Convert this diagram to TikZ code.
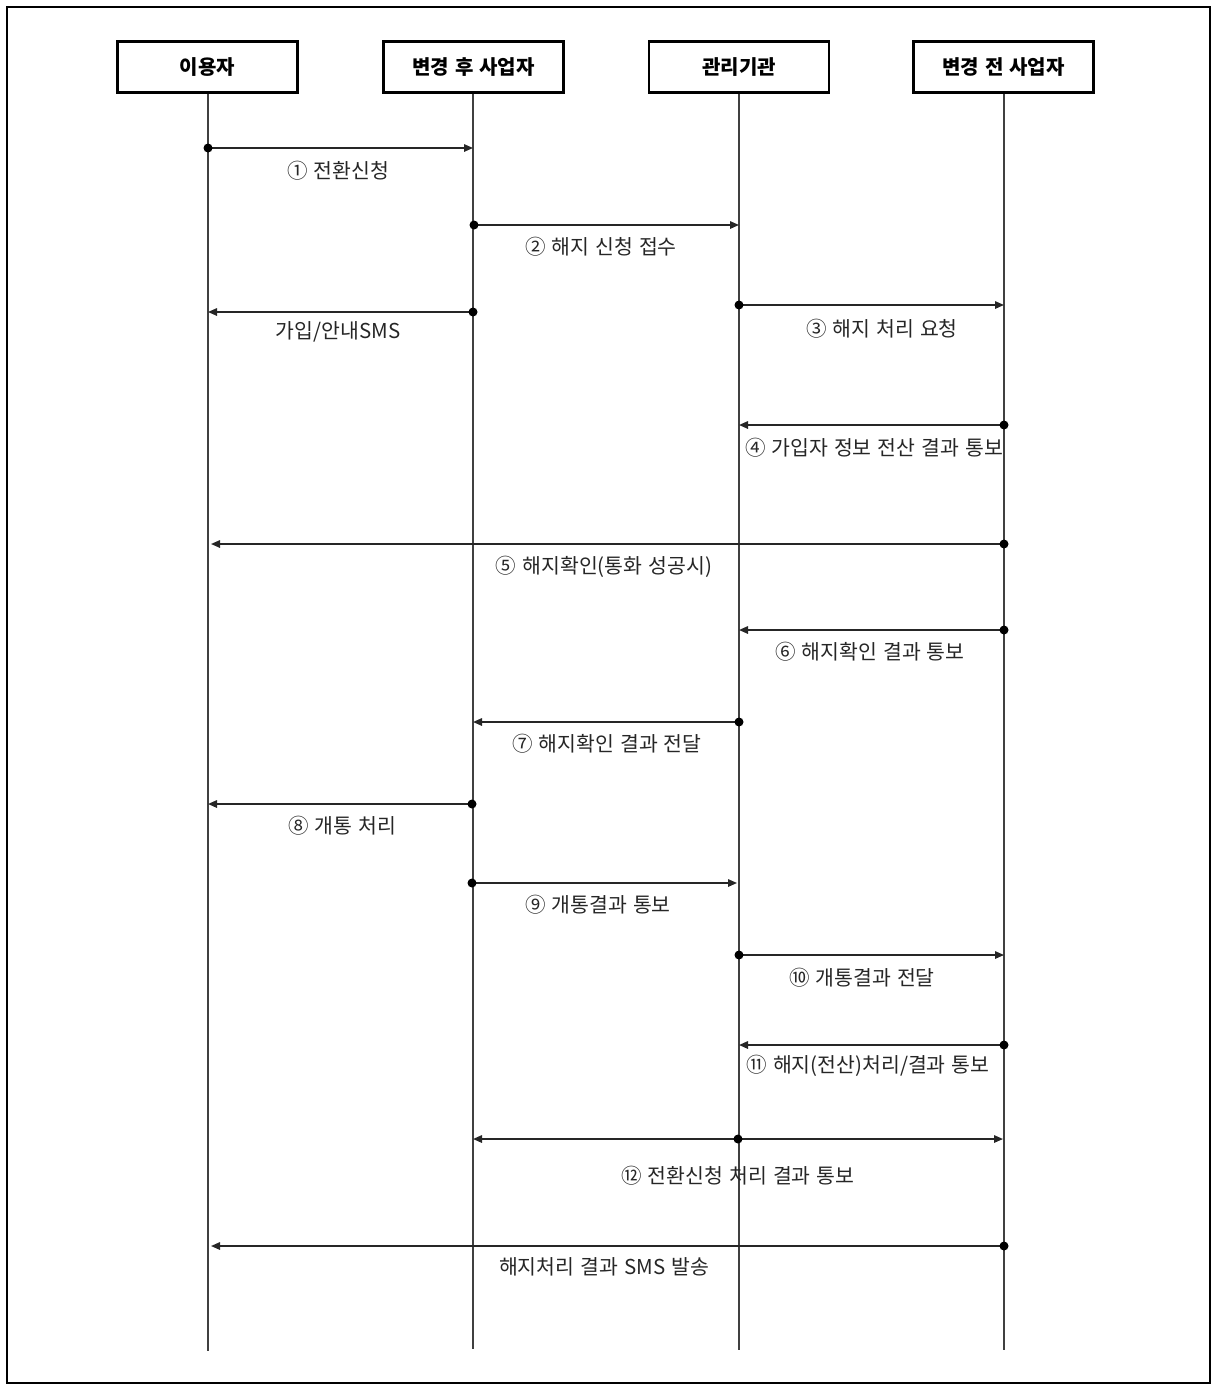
\documentclass[tikz,border=0pt]{standalone}
\usepackage{fontspec}
\usetikzlibrary{arrows.meta}
\newfontfamily\kr[WordSpace=1.3]{Noto Sans CJK KR}
\begin{document}
\begin{tikzpicture}[x=1pt,y=-1pt,
  hdr/.style={draw=black,line width=2.2pt,minimum width=180pt,minimum height=51pt,inner sep=0pt,font=\kr\bfseries\fontsize{20}{22}\selectfont},
  life/.style={draw=black!75,line width=1.2pt},
  msg/.style={draw=black!85,line width=1.5pt,-{Triangle[length=9pt,width=7.5pt]}},
  msgb/.style={draw=black!85,line width=1.5pt,{Triangle[length=9pt,width=7.5pt]}-{Triangle[length=9pt,width=7.5pt]}},
  lbl/.style={font=\kr\fontsize{20.5}{23}\selectfont,inner sep=0pt,text=black!85},
  dot/.style={fill=black}]
\useasboundingbox (0,0) rectangle (1215,1387);
\draw[line width=2.8pt] (7,7) rectangle (1210,1383);
% headers
\node[hdr] (u) at (207.5,67) {이용자};
\node[hdr] (n) at (473.5,67) {변경 후 사업자};
\node[hdr] (m) at (739,67) {관리기관};
\node[hdr] (o) at (1003.5,67) {변경 전 사업자};
% lifeline ends
\coordinate (ue) at (208,1351);
\coordinate (ne) at (473,1349);
\coordinate (me) at (739,1350);
\coordinate (oe) at (1004,1350);
\draw[life] (u.south -| ue) -- (ue);
\draw[life] (n.south -| ne) -- (ne);
\draw[life] (m.south -| me) -- (me);
\draw[life] (o.south -| oe) -- (oe);
% message points
\coordinate (a1) at (208,148);  \coordinate (b1) at (473,148);
\coordinate (a2) at (474,225);  \coordinate (b2) at (739,225);
\coordinate (a3) at (473,312);  \coordinate (b3) at (208,312);
\coordinate (a4) at (739,305);  \coordinate (b4) at (1004,305);
\coordinate (a5) at (1004,425); \coordinate (b5) at (739,425);
\coordinate (a6) at (1004,544); \coordinate (b6) at (211,544);
\coordinate (a7) at (1004,630); \coordinate (b7) at (739,630);
\coordinate (a8) at (739,722);  \coordinate (b8) at (473,722);
\coordinate (a9) at (472,804);  \coordinate (b9) at (208,804);
\coordinate (a10) at (472,883); \coordinate (b10) at (737,883);
\coordinate (a11) at (739,955); \coordinate (b11) at (1004,955);
\coordinate (a12) at (1004,1045); \coordinate (b12) at (739,1045);
\coordinate (c13) at (473,1139); \coordinate (a13) at (738,1139); \coordinate (b13) at (1003,1139);
\coordinate (a14) at (1004,1246); \coordinate (b14) at (211,1246);
% arrows
\draw[msg] (a1) -- (b1);
\draw[msg] (a2) -- (b2);
\draw[msg] (a3) -- (b3);
\draw[msg] (a4) -- (b4);
\draw[msg] (a5) -- (b5);
\draw[msg] (a6) -- (b6);
\draw[msg] (a7) -- (b7);
\draw[msg] (a8) -- (b8);
\draw[msg] (a9) -- (b9);
\draw[msg] (a10) -- (b10);
\draw[msg] (a11) -- (b11);
\draw[msg] (a12) -- (b12);
\draw[msgb] (c13) -- (b13);
\draw[msg] (a14) -- (b14);
% dots
\foreach \p in {a1,a2,a3,a4,a5,a6,a7,a8,a9,a10,a11,a12,a13,a14}
  \fill[dot] (\p) circle (4.5);
% labels
\node[lbl] (l1) at (338,171) {① 전환신청};
\node[lbl] (l2) at (601,247) {② 해지 신청 접수};
\node[lbl] (l3) at (338,332) {가입/안내SMS};
\node[lbl] (l4) at (882,329) {③ 해지 처리 요청};
\node[lbl] (l5) at (874,448) {④ 가입자 정보 전산 결과 통보};
\node[lbl] (l6) at (604,567) {⑤ 해지확인(통화 성공시)};
\node[lbl] (l7) at (870,652) {⑥ 해지확인 결과 통보};
\node[lbl] (l8) at (607,744) {⑦ 해지확인 결과 전달};
\node[lbl] (l9) at (342,826) {⑧ 개통 처리};
\node[lbl] (l10) at (598,905) {⑨ 개통결과 통보};
\node[lbl] (l11) at (862,978) {⑩ 개통결과 전달};
\node[lbl] (l12) at (868,1066) {⑪ 해지(전산)처리/결과 통보};
\node[lbl] (l13) at (738,1176) {⑫ 전환신청 처리 결과 통보};
\node[lbl] (l14) at (604,1267) {해지처리 결과 SMS 발송};
\end{tikzpicture}
\end{document}
